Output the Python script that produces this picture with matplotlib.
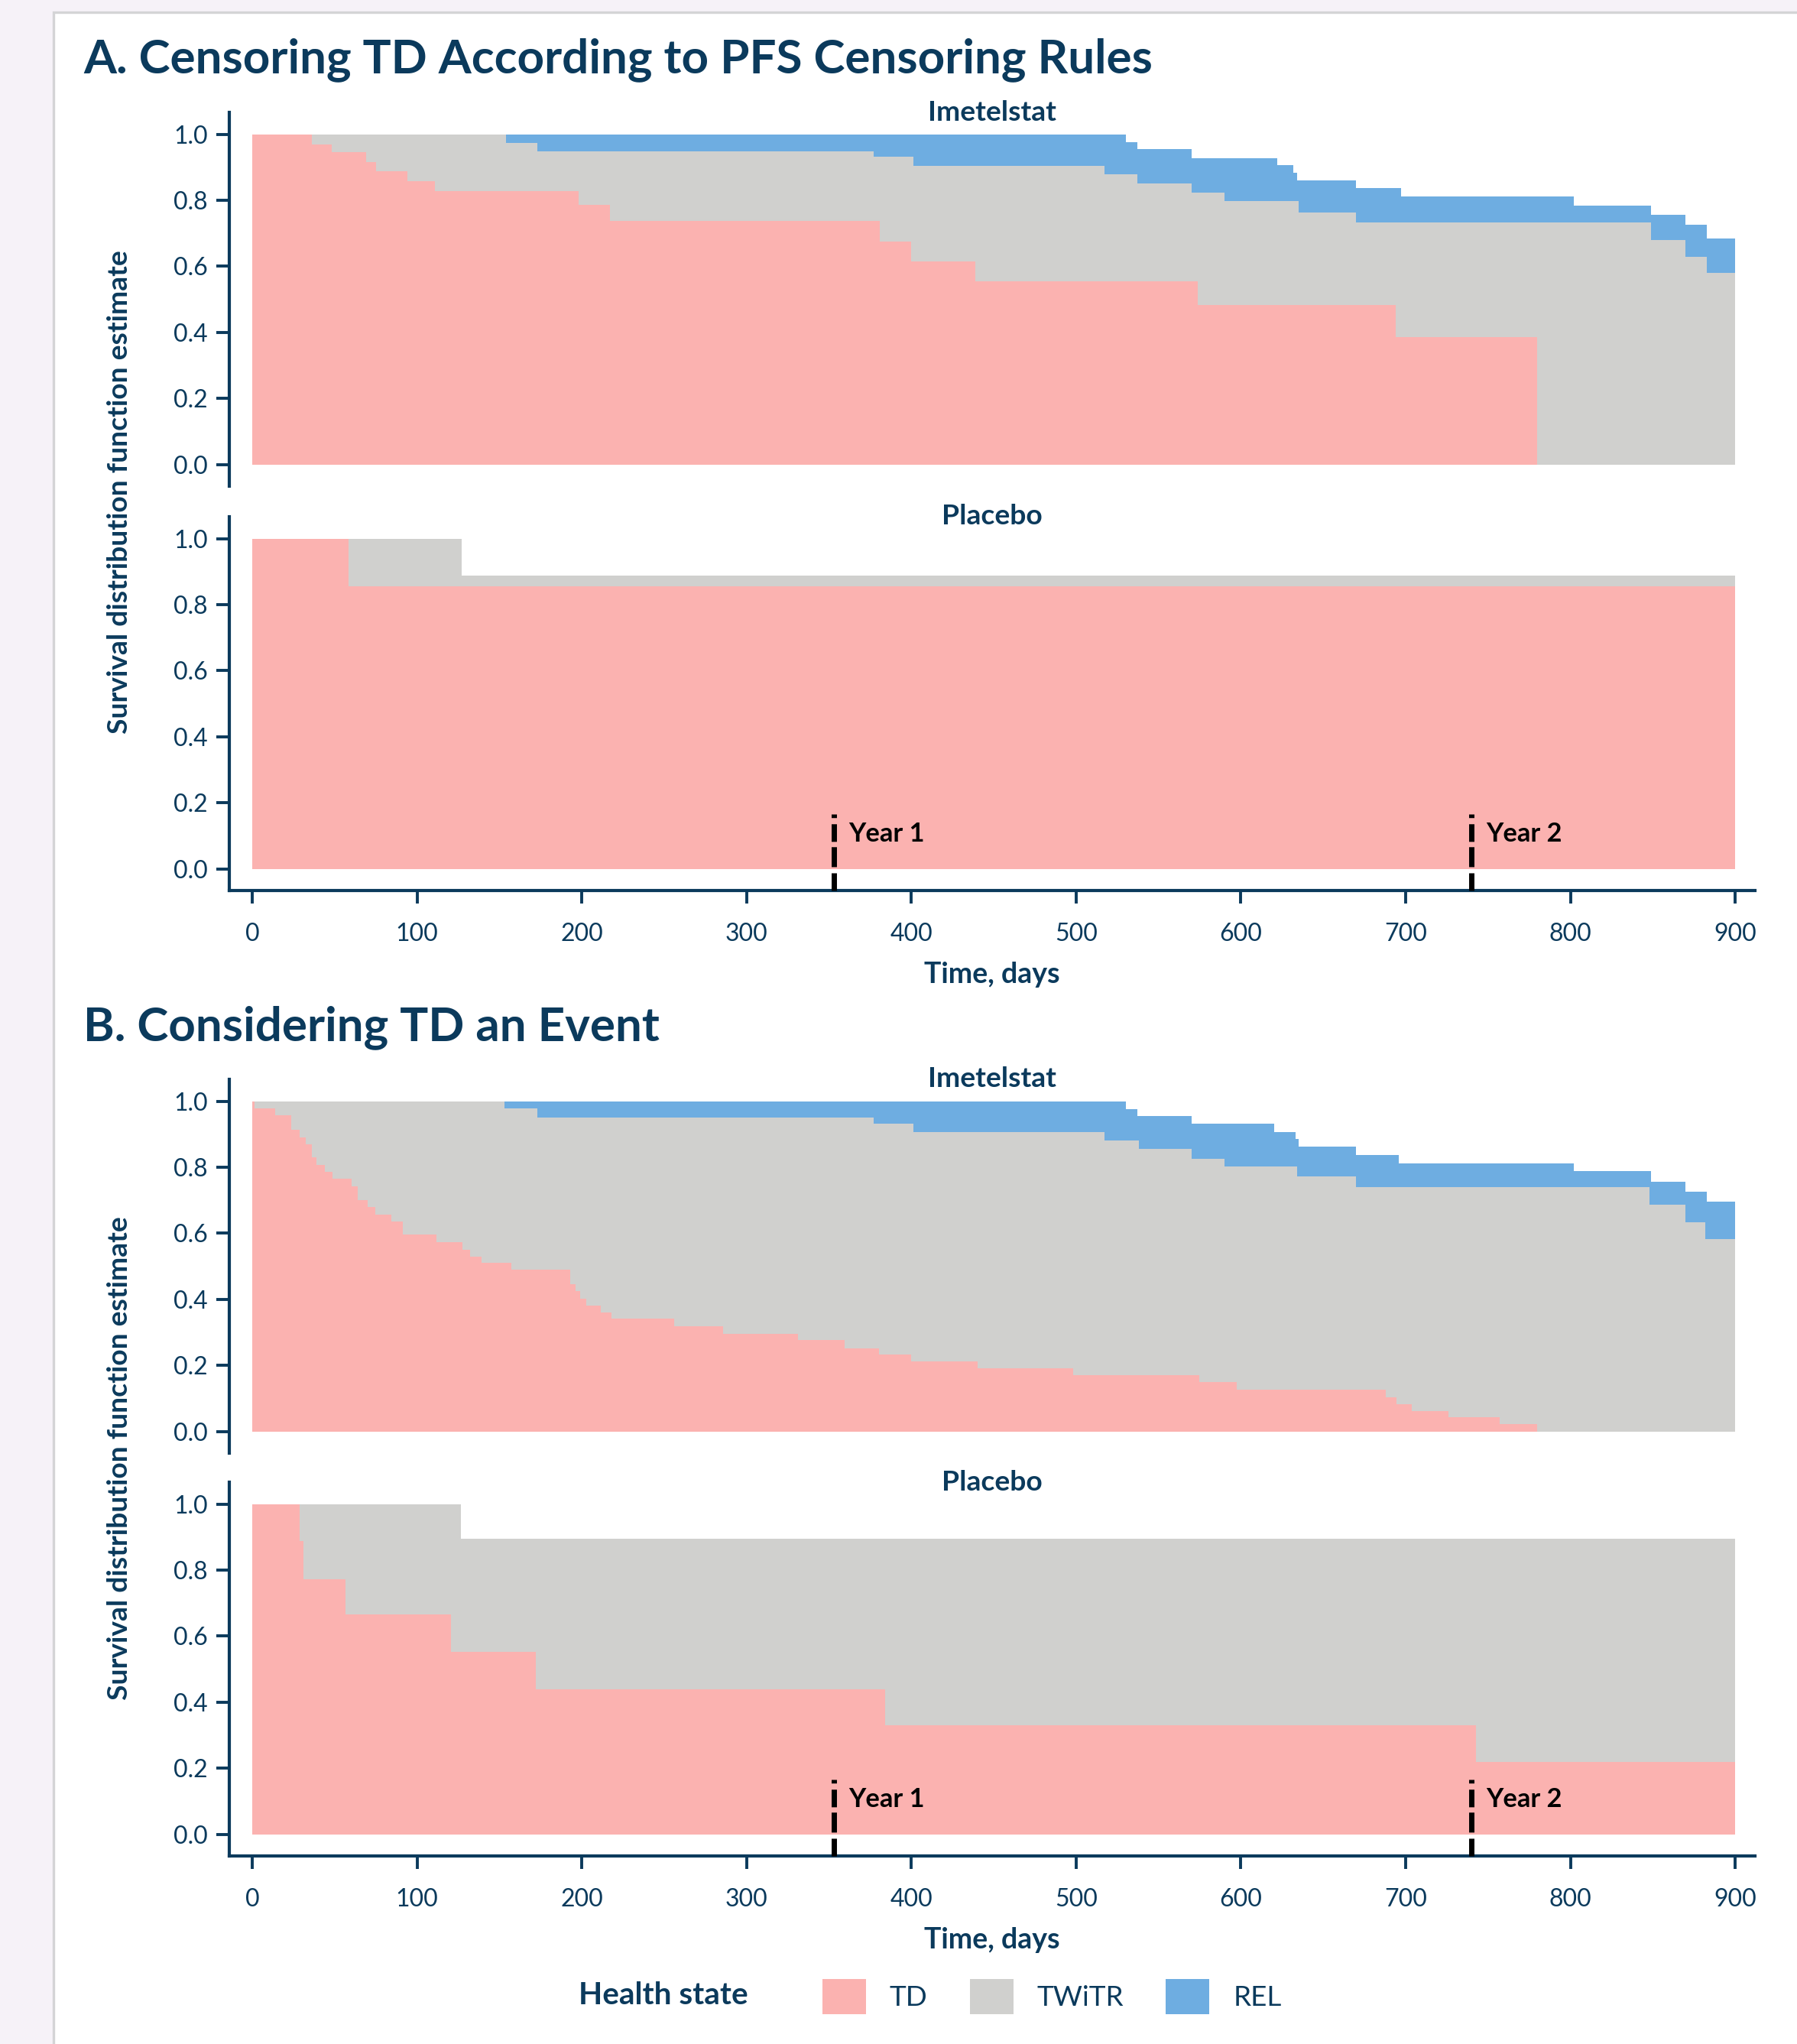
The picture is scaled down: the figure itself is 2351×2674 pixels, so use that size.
import numpy as np
import matplotlib
matplotlib.use('Agg')
import matplotlib.pyplot as plt
from matplotlib.patches import Patch, Rectangle

plt.rcParams['font.family'] = ['Lato', 'DejaVu Sans']
plt.rcParams['lines.scale_dashes'] = False

# ---- data (cumulative upper edge of each stacked state, step starts in days) ----
END_DAY = 900
states = ['TD', 'TWiTR', 'REL']
year_days = [353, 740]
year_labels = ['Year 1', 'Year 2']

# A. Censoring TD according to PFS censoring rules
a_imet_td_t = [0, 36, 48, 69, 75, 94, 111, 198, 217, 381, 400, 439, 574, 694, 780]
a_imet_td_s = [1.0, 0.969, 0.946, 0.916, 0.888, 0.858, 0.828, 0.786, 0.737, 0.674,
               0.616, 0.556, 0.484, 0.386, 0.0]
a_imet_tw_t = [0, 154, 173, 377, 401, 517, 537, 570, 590, 635, 670, 849, 870, 883]
a_imet_tw_s = [1.0, 0.974, 0.949, 0.933, 0.903, 0.878, 0.852, 0.824, 0.798, 0.764,
               0.734, 0.679, 0.628, 0.581]
a_imet_rel_t = [0, 530, 537, 570, 622, 632, 634, 670, 697, 802, 849, 870, 883]
a_imet_rel_s = [1.0, 0.976, 0.954, 0.927, 0.907, 0.883, 0.860, 0.837, 0.811, 0.784,
                0.755, 0.725, 0.685]

a_pla_td_t = [0, 58.5]
a_pla_td_s = [1.0, 0.856]
a_pla_tw_t = [0, 127]
a_pla_tw_s = [1.0, 0.888]

# B. Considering TD an event
b_imet_td_t = [0, 1.5, 14, 23.5, 28.5, 32.5, 36, 39, 44, 48.5, 60, 64, 70, 74.5, 84.5,
               91.5, 111.5, 127.5, 132, 139, 157, 193, 196, 199, 202.5, 211.5, 218, 256,
               285.5, 331, 359.5, 380.5, 400, 440, 498, 574.5, 597.5, 688, 694.5, 703.5,
               726, 757, 780]
b_imet_td_s = [1.0, 0.978, 0.957, 0.914, 0.891, 0.870, 0.830, 0.807, 0.785, 0.765,
               0.743, 0.700, 0.679, 0.657, 0.636, 0.597, 0.574, 0.551, 0.530, 0.511,
               0.489, 0.446, 0.425, 0.403, 0.382, 0.361, 0.341, 0.320, 0.295, 0.277,
               0.253, 0.233, 0.213, 0.191, 0.170, 0.151, 0.128, 0.104, 0.084, 0.0625,
               0.043, 0.023, 0.0]
b_imet_tw_t = [0, 153, 173, 377, 401, 517, 538, 570, 590, 634, 670, 848, 870, 882]
b_imet_tw_s = [1.0, 0.978, 0.951, 0.931, 0.907, 0.882, 0.855, 0.826, 0.802, 0.772,
               0.739, 0.686, 0.633, 0.582]
b_imet_rel_t = [0, 530, 537, 570, 620, 633, 635, 670, 696, 802, 849, 870, 883]
b_imet_rel_s = [1.0, 0.976, 0.955, 0.933, 0.907, 0.886, 0.862, 0.838, 0.811, 0.789,
                0.755, 0.726, 0.695]

b_pla_td_t = [0, 28.5, 31, 56.5, 120.5, 172, 384, 742.5]
b_pla_td_s = [1.0, 0.887, 0.772, 0.665, 0.553, 0.439, 0.330, 0.219]
b_pla_tw_t = [0, 126.7]
b_pla_tw_s = [1.0, 0.894]

# ---- styling ----
W, H, DPI = 2351, 2674, 200
navy = '#0b3a5c'
colors = {'TD': '#fbb2b0', 'TWiTR': '#d0d0ce', 'REL': '#6eade1'}

fig = plt.figure(figsize=(W / DPI, H / DPI), dpi=DPI, facecolor='#f6f2f8')
fig.patches.append(Rectangle((70 / W, -0.01), 1.0, 1.01 - 16 / H, transform=fig.transFigure,
                             facecolor='white', edgecolor='#d4d4d6', lw=1.2, zorder=-10))


def make_ax(top, bottom):
    return fig.add_axes([300 / W, 1 - bottom / H, 1996 / W, (bottom - top) / H])


def draw_step(ax, t, s, color, z):
    tt = list(t) + [END_DAY]
    ss = list(s) + [s[-1]]
    ax.fill_between(tt, 0, ss, step='post', color=color, lw=0, zorder=z)


def style_ax(ax, title, bottom_axis):
    ax.set_facecolor('none')
    ax.set_xlim(-14, 912)
    ax.set_ylim(-0.065, 1.066)
    for sp in ['top', 'right']:
        ax.spines[sp].set_visible(False)
    ax.spines['left'].set_color(navy)
    ax.spines['left'].set_linewidth(1.5)
    ax.set_yticks(np.arange(0, 1.01, 0.2))
    ax.set_yticklabels(['%.1f' % v for v in np.arange(0, 1.01, 0.2)])
    ax.tick_params(axis='y', length=6.1, width=1.4, color=navy, labelcolor=navy,
                   labelsize=11.5, pad=4)
    if bottom_axis:
        ax.spines['bottom'].set_color(navy)
        ax.spines['bottom'].set_linewidth(1.5)
        ax.set_xticks(np.arange(0, 901, 100))
        ax.tick_params(axis='x', length=6.1, width=1.4, color=navy, labelcolor=navy,
                       labelsize=11.5, pad=9)
        ax.set_xlabel('Time, days', fontweight='bold', color=navy, fontsize=13.5, va='top')
        ax.xaxis.set_label_coords(0.5, -0.19)
        for d, lab in zip(year_days, year_labels):
            ax.plot([d, d], [-0.065, 0.166], color='black', lw=2.5,
                    dashes=(8.3, 2.9, 9.4, 2.5), clip_on=False, zorder=5)
            ax.text(d + 9, 0.105, lab, color='black', fontweight='bold', fontsize=12.4,
                    va='center', ha='left', zorder=6)
    else:
        ax.spines['bottom'].set_visible(False)
        ax.set_xticks([])
    ax.text(0.5, 1.0, title, transform=ax.transAxes, ha='center', va='center',
            fontweight='bold', color=navy, fontsize=13.4)


panels = [
    (147, 'Imetelstat', False, [(a_imet_rel_t, a_imet_rel_s, 'REL'), (a_imet_tw_t, a_imet_tw_s, 'TWiTR'),
                                (a_imet_td_t, a_imet_td_s, 'TD')]),
    (676, 'Placebo', True, [(a_pla_tw_t, a_pla_tw_s, 'TWiTR'), (a_pla_td_t, a_pla_td_s, 'TD')]),
    (1412, 'Imetelstat', False, [(b_imet_rel_t, b_imet_rel_s, 'REL'), (b_imet_tw_t, b_imet_tw_s, 'TWiTR'),
                                 (b_imet_td_t, b_imet_td_s, 'TD')]),
    (1939, 'Placebo', True, [(b_pla_tw_t, b_pla_tw_s, 'TWiTR'), (b_pla_td_t, b_pla_td_s, 'TD')]),
]

for top, title, bottom_axis, curves in panels:
    ax = make_ax(top, top + 489)
    for z, (t, s, st) in enumerate(curves):
        draw_step(ax, t, s, colors[st], z + 1)
    style_ax(ax, title, bottom_axis)

# section titles
fig.text(109 / W, 1 - 95 / H, 'A. Censoring TD According to PFS Censoring Rules',
         fontsize=22.3, fontweight='bold', color=navy, va='baseline', ha='left')
fig.text(109 / W, 1 - 1361 / H, 'B. Considering TD an Event',
         fontsize=22.3, fontweight='bold', color=navy, va='baseline', ha='left')

# y-axis labels
ylab = 'Survival distribution function estimate'
for yc in [644, 1908]:
    fig.text(157 / W, 1 - yc / H, ylab, rotation=90, ha='center', va='center',
             fontweight='bold', color=navy, fontsize=13.4)

# legend
fig.text(757 / W, 1 - 2611 / H, 'Health state', fontweight='bold', color=navy,
         fontsize=14.6, va='center', ha='left')
handles = [Patch(facecolor=colors[s], edgecolor='none', label=s) for s in states]
fig.legend(handles=handles, ncol=3, frameon=False, loc='center left',
           bbox_to_anchor=(1076 / W, 1 - 2612 / H), fontsize=13.3, labelcolor=navy,
           handlelength=1.54, handleheight=1.57, handletextpad=0.84, columnspacing=1.49,
           borderpad=0, borderaxespad=0)

fig.savefig('out.png', dpi=DPI, facecolor=fig.get_facecolor())
